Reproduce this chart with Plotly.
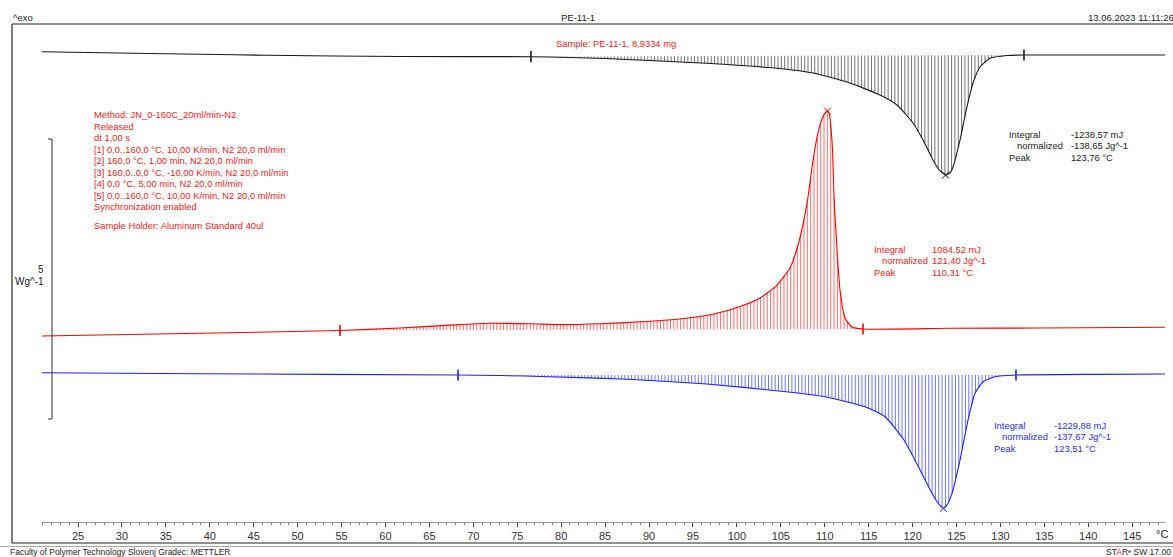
import numpy as np
import plotly.graph_objects as go

# ---------------- data ----------------
# Temperature (°C) and heat-flow change (W/g) for the three DSC segments
BLACK_T = [20.90, 31.26, 38.89, 46.51, 61.65, 76.56, 81.00, 84.99, 91.25, 97.05,
           104.91, 108.67, 112.54, 116.29, 118.23, 120.05, 121.19, 122.33, 123.01,
           123.76, 124.26, 124.60, 125.40, 126.19, 126.88, 127.67, 128.81, 130.75,
           132.68, 141.33, 148.73]
BLACK_HF = [0.023, -0.005, -0.023, -0.041, -0.063, -0.066, -0.080, -0.098, -0.143,
            -0.188, -0.277, -0.357, -0.518, -0.750, -0.929, -1.250, -1.554, -1.911,
            -2.089, -2.179, -2.143, -2.036, -1.554, -0.964, -0.536, -0.250, -0.095,
            -0.045, -0.036, -0.036, -0.036]

RED_T = [20.90, 38.89, 54.82, 61.65, 67.34, 71.67, 76.45, 80.21, 84.42, 89.09,
         93.19, 97.28, 100.36, 102.63, 104.45, 106.05, 106.96, 107.53, 108.10,
         108.67, 109.23, 109.69, 110.09, 110.31, 110.54, 110.71, 110.89, 111.06,
         111.40, 111.74, 112.31, 113.10, 114.36, 124.26, 134.50, 148.73]
RED_HF = [-0.004, 0.045, 0.095, 0.139, 0.190, 0.225, 0.215, 0.200, 0.215, 0.250,
          0.295, 0.385, 0.523, 0.675, 0.889, 1.211, 1.621, 1.996, 2.479, 3.139,
          3.621, 3.871, 3.988, 4.014, 3.961, 3.711, 3.318, 2.479, 1.532, 0.818,
          0.318, 0.157, 0.121, 0.134, 0.139, 0.154]

BLUE_T = [20.90, 38.89, 68.26, 73.04, 78.61, 87.61, 96.60, 105.59, 110.03, 114.58,
          116.86, 119.02, 120.85, 122.21, 122.89, 123.51, 123.92, 124.49, 125.40,
          126.31, 127.11, 128.02, 129.38, 131.77, 141.33, 148.73]
BLUE_HF = [0.001, -0.017, -0.040, -0.049, -0.070, -0.117, -0.201, -0.338, -0.428,
           -0.606, -0.785, -1.201, -1.736, -2.153, -2.326, -2.420, -2.361, -2.153,
           -1.558, -0.844, -0.367, -0.160, -0.070, -0.040, -0.028, -0.022]

# integration limits (°C) and peak temperatures (°C)
BLACK_LIMITS = [76.56, 132.68]
RED_LIMITS = [54.82, 114.36]
BLUE_LIMITS = [68.26, 131.77]
PEAKS = {"black": 123.76, "red": 110.31, "blue": 123.51}

X_TICKS = list(range(25, 150, 5))
X_TICK_LABELS = [str(v) for v in X_TICKS]

RESULT_LABELS = ["Integral", "normalized", "Peak"]
BLACK_RESULTS = ["-1238,57 mJ", "-138,65 Jg^-1", "123,76 °C"]
RED_RESULTS = ["1084,52 mJ", "121,40 Jg^-1", "110,31 °C"]
BLUE_RESULTS = ["-1229,88 mJ", "-137,67 Jg^-1", "123,51 °C"]

METHOD_LINES = [
    "Method: JN_0-160C_20ml/min-N2",
    "Released",
    "dt 1,00 s",
    "[1] 0,0..160,0 °C, 10,00 K/min, N2 20,0 ml/min",
    "[2] 160,0 °C, 1,00 min, N2 20,0 ml/min",
    "[3] 160,0..0,0 °C, -10,00 K/min, N2 20,0 ml/min",
    "[4] 0,0 °C, 5,00 min, N2 20,0 ml/min",
    "[5] 0,0..160,0 °C, 10,00 K/min, N2 20,0 ml/min",
    "Synchronization enabled",
]
HOLDER_LINE = "Sample Holder: Aluminum Standard 40ul"
SAMPLE_LINE = "Sample: PE-11-1, 8,9334 mg"
SCALE_BAR_WG = 5

# ---------------- layout constants ----------------
W, H = 1173, 557
PX_PER_C = 8.785
PX_25C = 78
PX_PER_WG = 56
OFFSETS = {"black": 9.0, "red": 3.95, "blue": 3.29}
COLORS = {"black": "#1a1a1a", "red": "#ff0000", "blue": "#1f1fff"}
HATCH = {"black": "#3a3a3a", "red": "#ff3030", "blue": "#3a3aff"}
FONT = "Liberation Sans, Arial, sans-serif"
TXT = 9.4
RED_TXT = "#ff2020"


def t_of_px(px):
    return 25 + (px - PX_25C) / PX_PER_C


def xp(px):
    return px / W


def yp(py):
    return 1 - py / H


fig = go.Figure()

series = {
    "black": (BLACK_T, BLACK_HF, BLACK_LIMITS),
    "red": (RED_T, RED_HF, RED_LIMITS),
    "blue": (BLUE_T, BLUE_HF, BLUE_LIMITS),
}

STEP = 0.38
for name, (T, HF, lims) in series.items():
    T = np.array(T)
    HF = np.array(HF) + OFFSETS[name]
    t0, t1 = lims
    y0, y1 = np.interp(t0, T, HF), np.interp(t1, T, HF)
    hx, hy = [], []
    for t in np.arange(t0 + STEP, t1, STEP):
        yc = np.interp(t, T, HF)
        yb = y0 + (y1 - y0) * (t - t0) / (t1 - t0)
        hx += [t, t, None]
        hy += [yb, yc, None]
    fig.add_trace(go.Scatter(x=hx, y=hy, mode="lines",
                             line=dict(color=HATCH[name], width=0.7),
                             hoverinfo="skip"))
    fig.add_trace(go.Scatter(x=T, y=HF, mode="lines",
                             line=dict(color=COLORS[name], width=1.1,
                                       shape="spline", smoothing=0.5)))
    fig.add_trace(go.Scatter(x=[t0, t1], y=[y0, y1], mode="markers",
                             marker=dict(symbol="line-ns", size=8,
                                         line=dict(color=COLORS[name], width=1.6)),
                             cliponaxis=False))
    pk = PEAKS[name]
    fig.add_trace(go.Scatter(x=[pk], y=[np.interp(pk, T, HF)], mode="markers",
                             marker=dict(symbol="x-thin", size=7,
                                         line=dict(color=COLORS[name], width=1)),
                             cliponaxis=False))

shapes = []
# frame
shapes.append(dict(type="line", xref="paper", yref="paper", x0=xp(12), x1=xp(1190),
                   y0=yp(24), y1=yp(24), line=dict(color="#222", width=1.2)))
shapes.append(dict(type="line", xref="paper", yref="paper", x0=xp(12), x1=xp(12),
                   y0=yp(24), y1=yp(543), line=dict(color="#222", width=1.2)))
shapes.append(dict(type="line", xref="paper", yref="paper", x0=xp(12), x1=xp(1190),
                   y0=yp(543), y1=yp(543), line=dict(color="#222", width=1.2)))
shapes.append(dict(type="line", xref="paper", yref="paper", x0=xp(0), x1=xp(1190),
                   y0=yp(546.5), y1=yp(546.5), line=dict(color="#aaa", width=1)))
# scale bar (5 W/g)
sb_bottom = (H - 419) / PX_PER_WG
sb_top = sb_bottom + SCALE_BAR_WG
shapes.append(dict(type="line", xref="paper", yref="y", x0=xp(52), x1=xp(52),
                   y0=sb_bottom, y1=sb_top, line=dict(color="#333", width=1)))
for yy in (sb_bottom, sb_top):
    shapes.append(dict(type="line", xref="paper", yref="y", x0=xp(48), x1=xp(52),
                       y0=yy, y1=yy, line=dict(color="#333", width=1)))

ann = []


def text(px, py, s, color="#222", size=TXT, anchor="left"):
    ann.append(dict(x=xp(px), y=yp(py), xref="paper", yref="paper", text=s,
                    showarrow=False, xanchor=anchor, yanchor="middle",
                    borderpad=0,
                    font=dict(family=FONT, size=size, color=color)))


text(12, 18, "^exo", size=9.5)
text(578, 18, "PE-11-1", size=9.5, anchor="center")
text(1175, 18, "13.06.2023 11:11:26", size=9.5, anchor="right")
text(9, 552, "Faculty of Polymer Technology Slovenj Gradec: METTLER", size=8.5)
text(1172, 552, "ST<span style='color:#e02020'>A</span>R\u1d49 SW 17.00",
     size=8.5, anchor="right")
text(1155, 534, "°C", size=11)
text(45, 269, "5", size=10, anchor="right")
text(45, 281, "Wg^-1", size=10, anchor="right")
text(555, 43, SAMPLE_LINE, color=RED_TXT)

for i, line in enumerate(METHOD_LINES):
    text(93, 114.5 + i * 11.5, line, color=RED_TXT)
text(93, 225, HOLDER_LINE, color=RED_TXT)

for (lx, vx, y0r, vals, col) in [
    (1008, 1070, 134, BLACK_RESULTS, "#222"),
    (873, 931, 249, RED_RESULTS, RED_TXT),
    (993, 1053, 425, BLUE_RESULTS, "#2a2aff"),
]:
    for i, (lab, val) in enumerate(zip(RESULT_LABELS, vals)):
        yy = y0r + i * 11.6
        text(lx + (8 if i == 1 else 0), yy, lab, color=col)
        text(vx, yy, val, color=col)

fig.update_layout(
    width=W, height=H,
    margin=dict(l=0, r=0, t=0, b=0),
    paper_bgcolor="white", plot_bgcolor="white",
    showlegend=False,
    shapes=shapes, annotations=ann,
    xaxis=dict(domain=[xp(42), xp(1165)], range=[t_of_px(42), t_of_px(1165)],
               anchor="free", position=yp(521.5), side="bottom",
               showline=True, linecolor="#999", linewidth=1,
               tickvals=X_TICKS, ticktext=X_TICK_LABELS,
               ticks="outside", ticklen=4, tickwidth=1, tickcolor="#444",
               minor=dict(dtick=1, tick0=0, ticks="outside", ticklen=2,
                          tickwidth=1, tickcolor="#777"),
               tickfont=dict(family=FONT, size=11, color="#333"),
               showgrid=False, zeroline=False, fixedrange=True),
    yaxis=dict(domain=[0, 1], range=[0, H / PX_PER_WG], visible=False,
               fixedrange=True),
)

fig.write_html("out.html",
               config={"displayModeBar": False},
               post_script="document.body.style.margin='0';"
                           "document.body.style.overflow='hidden';")
